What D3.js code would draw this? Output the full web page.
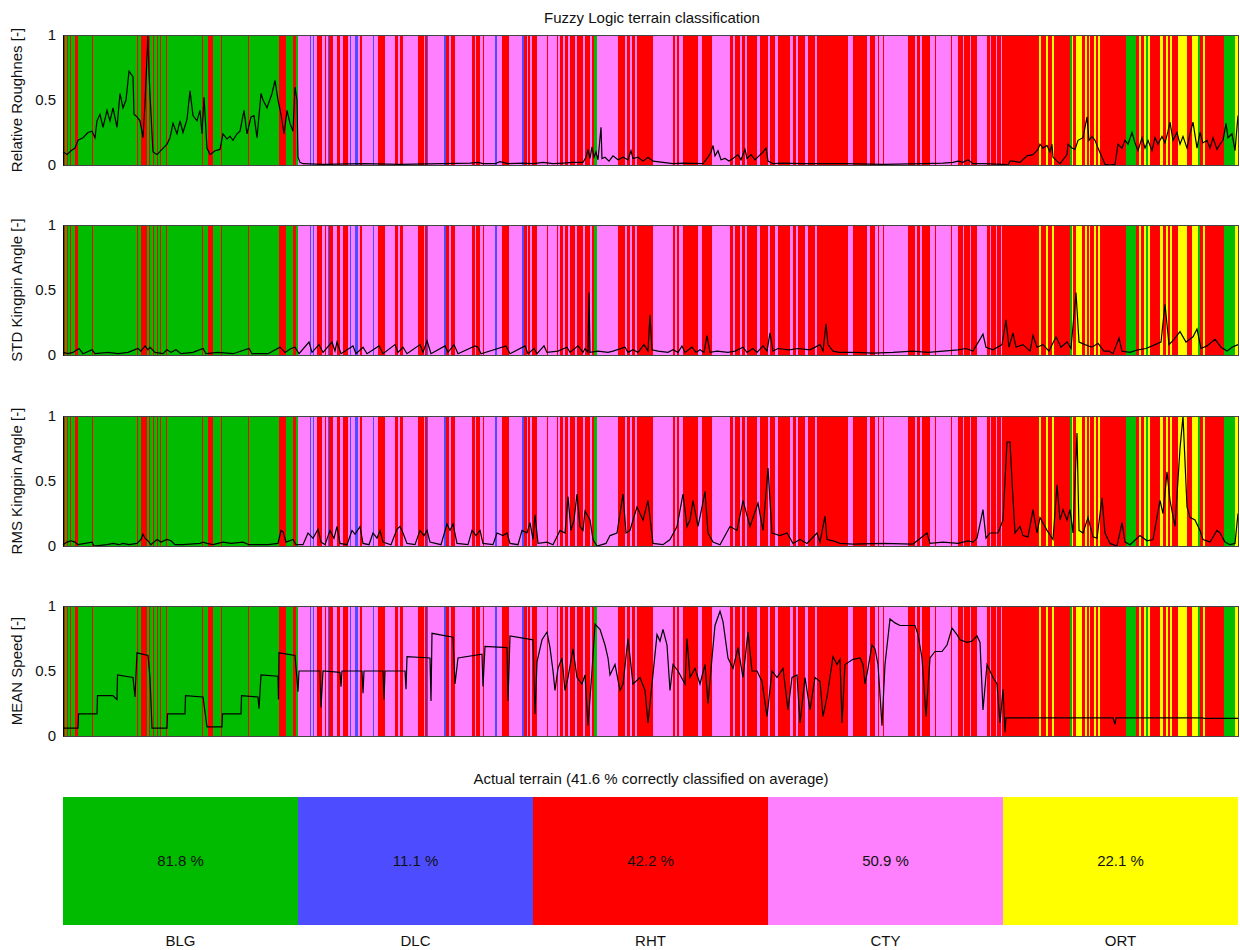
<!DOCTYPE html>
<html>
<head>
<meta charset="utf-8">
<script src="https://cdn.jsdelivr.net/npm/d3@7"></script>
<style>
  body { margin: 0; background: #fff; }
  svg text { font-family: "Liberation Sans", Arial, sans-serif; fill: #111; }
</style>
</head>
<body>
<svg id="chart" width="1240" height="950"></svg>
<script>
// terrain classes (codes used in the classification strip)
const classNames = ["BLG", "DLC", "RHT", "CTY", "ORT"];
const classColors = { G: "#00bb00", B: "#4d4dff", R: "#ff0000", P: "#ff80ff", Y: "#ffff00" };
const classCodeOrder = ["G", "B", "R", "P", "Y"];
const classPercent = [81.8, 11.1, 42.2, 50.9, 22.1];
const averageCorrect = 41.6;

// classified terrain along the run: start sample of each segment and its class
const segStart = [0,1,2,4,5,7,8,12,15,29,30,74,75,78,84,86,87,90,91,94,95,97,98,103,104,139,140,145,150,158,159,185,186,216,223,230,233,
  235,247,248,250,251,254,259,262,263,265,266,270,274,277,280,285,287,288,292,295,297,299,310,311,315,322,332,335,337,340,355,361,362,364,365,
  381,383,386,388,392,409,412,413,417,420,421,432,434,439,446,459,461,464,465,467,469,474,484,485,494,495,497,500,502,505,507,512,514,520,522,527,529,
  531,534,555,562,564,567,569,572,574,590,610,612,614,616,620,635,639,649,667,670,672,677,679,682,684,694,697,705,707,712,715,727,730,733,735,742,745,752,754,
  785,790,804,807,812,815,816,820,821,845,852,854,857,859,867,872,873,888,889,895,900,901,907,908,914,924,927,928,933,934,938,939,
  976,978,983,985,989,991,1007,1009,1010,1013,1019,1022,1024,1026,1027,1031,1033,1035,1037,1063,1073,1076,1078,1081,1083,1085,1087,1097,1100,1103,1105,1107,1109,
  1115,1124,1129,1135,1137,1140,1142,1161,1172];
const segCode = ["G","R","G","R","G","R","G","R","G","R","G","R","G","R","G","R","G","R","G","R","G","R","G","R","G","R","G","R","G","R","G","R","G","R","G","R","G",
  "P","B","P","B","P","R","P","R","P","B","R","P","R","P","R","P","B","P","B","P","R","P","B","P","R","P","R","P","R","P","R","P","R","B","P",
  "B","R","P","R","P","R","P","R","P","R","P","B","P","R","P","B","R","P","R","P","R","P","R","P","R","P","R","P","R","P","R","P","R","P","R","P","R",
  "G","P","R","P","R","P","R","P","R","P","R","P","R","P","R","P","R","P","R","P","R","P","R","P","R","P","R","P","R","P","R","P","R","P","R","P","R","P","R",
  "P","R","P","R","P","R","P","R","P","R","P","R","P","R","P","R","P","R","P","R","P","R","P","R","P","R","P","R","P","R","P","R",
  "Y","R","Y","R","Y","R","G","Y","R","Y","R","Y","R","Y","R","Y","R","Y","R","G","R","Y","R","Y","G","Y","R","Y","R","Y","R","Y","R",
  "Y","R","Y","G","R","Y","R","G","Y"];
const sampleCount = 1175;

// measured signals, normalised [sample, value]
const roughness = [[0,0.09],[1,0.096],[4,0.08],[8,0.11],[12,0.13],[15,0.19],[20,0.21],[25,0.25],[29,0.26],[32,0.21],[34,0.34],[37,0.39],[40,0.29],[44,0.42],[47,0.34],[50,0.44],[54,0.29],[57,0.55],[60,0.44],[63,0.5],[66,0.72],[70,0.68],[71,0.39],[74,0.37],[77,0.34],[80,0.21],[82,0.48],[85,1.0],[86,0.7],[89,0.24],[90,0.1],[94,0.08],[99,0.12],[104,0.16],[107,0.21],[110,0.32],[114,0.24],[117,0.34],[120,0.25],[124,0.35],[127,0.57],[130,0.38],[134,0.34],[137,0.42],[139,0.24],[141,0.52],[144,0.13],[147,0.08],[152,0.11],[157,0.12],[160,0.24],[164,0.2],[167,0.22],[170,0.19],[174,0.24],[177,0.26],[181,0.42],[184,0.24],[188,0.37],[191,0.38],[194,0.21],[198,0.55],[200,0.5],[204,0.44],[209,0.55],[212,0.65],[215,0.5],[218,0.39],[221,0.24],[224,0.42],[227,0.32],[230,0.26],[232,0.6],[234,0.5],[235,0.06],[237,0.02],[240,0.01],
  [260,0.005],[300,0.01],[337,0.005],[380,0.01],[407,0.015],[415,0.02],[420,0.01],[432,0.01],[437,0.025],[445,0.01],[460,0.015],[470,0.01],[480,0.02],[490,0.01],[500,0.015],[510,0.02],[520,0.02],[523,0.06],[525,0.12],[527,0.05],[529,0.14],[531,0.06],[533,0.1],[535,0.04],[538,0.29],[539,0.05],[542,0.06],[546,0.03],[550,0.07],[555,0.04],[560,0.06],[565,0.04],[568,0.11],[570,0.05],[575,0.06],[580,0.03],[585,0.06],[590,0.03],[600,0.02],[610,0.01],[620,0.015],[640,0.01],[645,0.06],[648,0.1],[650,0.15],[652,0.07],[655,0.11],[658,0.04],[662,0.05],[666,0.03],[670,0.05],[675,0.08],[678,0.04],[682,0.12],[684,0.05],[688,0.08],[692,0.04],[696,0.07],[700,0.1],[703,0.13],[705,0.03],[710,0.01],[720,0.015],[740,0.01],[780,0.01],[820,0.005],[860,0.01],[880,0.015],[890,0.02],[895,0.03],[900,0.02],[905,0.04],[910,0.01],[920,0.01],[940,0.005],[945,0.0],
  [947,0.03],[950,0.03],[957,0.02],[964,0.07],[970,0.08],[975,0.12],[977,0.16],[980,0.13],[984,0.15],[987,0.1],[989,0.16],[990,0.06],[994,0.03],[997,0.01],[1000,0.04],[1004,0.08],[1005,0.16],[1009,0.13],[1012,0.12],[1015,0.19],[1020,0.21],[1024,0.37],[1026,0.19],[1029,0.22],[1032,0.19],[1035,0.13],[1039,0.06],[1042,0.005],[1047,0],[1052,0.005],[1055,0.16],[1059,0.13],[1062,0.19],[1065,0.16],[1069,0.25],[1072,0.17],[1075,0.11],[1079,0.21],[1082,0.13],[1085,0.19],[1089,0.11],[1092,0.21],[1095,0.16],[1099,0.22],[1102,0.17],[1105,0.26],[1107,0.33],[1110,0.19],[1114,0.25],[1117,0.16],[1120,0.22],[1124,0.13],[1127,0.24],[1130,0.33],[1134,0.13],[1137,0.25],[1140,0.17],[1144,0.19],[1147,0.13],[1150,0.21],[1154,0.12],[1157,0.16],[1160,0.19],[1163,0.32],[1165,0.21],[1169,0.24],[1172,0.11],[1175,0.38]];

const stdKingpin = [[0,0.02],[5,0.01],[10,0.02],[16,0.05],[20,0.01],[29,0.04],[32,0.01],[45,0.02],[55,0.01],[65,0.02],[75,0.05],[78,0.03],[82,0.07],[85,0.04],[87,0.06],[92,0.02],[100,0.01],[104,0.04],[108,0.02],[113,0.04],[118,0.01],[130,0.02],[140,0.05],[143,0.01],[155,0.02],[170,0.01],[186,0.05],[189,0.01],[205,0.01],[217,0.06],[222,0.02],[228,0.05],[232,0.06],[236,0.01],[246,0.1],[249,0.02],[256,0.08],[260,0.02],[269,0.1],[272,0.03],[274,0.1],[278,0.01],[290,0.07],[293,0.01],[300,0.06],[304,0.01],[316,0.07],[320,0.01],[332,0.08],[335,0.02],[340,0.06],[344,0.01],[357,0.08],[360,0.02],[364,0.11],[368,0.01],[382,0.07],[385,0.02],[391,0.08],[395,0.01],[412,0.07],[415,0.06],[418,0.01],[443,0.07],[447,0.01],[462,0.07],[465,0.01],[471,0.05],[474,0.01],[481,0.07],[484,0.02],[495,0.03],[504,0.06],[507,0.02],[515,0.07],[520,0.02],[522,0.05],[525,0.02],[526,0.48],[527,0.02],[535,0.03],[545,0.02],[550,0.03],[562,0.06],[565,0.02],[570,0.04],[575,0.02],[581,0.08],[585,0.03],[587,0.31],[589,0.04],[595,0.03],[605,0.02],[610,0.04],[615,0.02],[619,0.07],[622,0.02],[629,0.06],[633,0.02],[637,0.04],[641,0.02],[644,0.15],[647,0.02],[654,0.03],[665,0.02],[672,0.03],[680,0.06],[684,0.02],[690,0.05],[694,0.02],[700,0.07],[704,0.03],[707,0.17],[710,0.03],[715,0.05],[726,0.04],[735,0.05],[747,0.04],[757,0.08],[760,0.03],[763,0.24],[765,0.08],[770,0.03],[776,0.02],[792,0.02],[810,0.015],[830,0.02],[850,0.03],[865,0.02],[880,0.03],[895,0.04],[903,0.05],[910,0.03],[920,0.16],[923,0.06],[930,0.04],[939,0.08],[943,0.27],[946,0.06],[950,0.17],[953,0.06],[960,0.08],[967,0.03],[970,0.15],[974,0.06],[980,0.08],[986,0.03],[993,0.14],[998,0.06],[1004,0.1],[1008,0.05],[1013,0.48],[1016,0.1],[1022,0.08],[1029,0.06],[1035,0.09],[1041,0.03],[1046,0.03],[1050,0.01],[1056,0.13],[1059,0.03],[1067,0.02],[1075,0.04],[1083,0.05],[1092,0.08],[1098,0.1],[1102,0.39],[1106,0.08],[1111,0.12],[1117,0.18],[1123,0.1],[1130,0.14],[1134,0.2],[1138,0.05],[1144,0.07],[1152,0.12],[1158,0.06],[1164,0.03],[1169,0.06],[1175,0.08]];

const rmsKingpin = [[0,0.01],[4,0.03],[8,0.04],[12,0.03],[15,0.01],[29,0.03],[31,0.0],[44,0.01],[50,0.02],[56,0.01],[60,0.02],[66,0.01],[74,0.02],[78,0.05],[80,0.09],[82,0.06],[85,0.04],[88,0.01],[94,0.05],[98,0.03],[104,0.05],[108,0.04],[112,0.01],[120,0.01],[137,0.02],[140,0.03],[144,0.02],[150,0.01],[160,0.03],[168,0.02],[180,0.03],[186,0.01],[205,0.01],[215,0.02],[218,0.12],[220,0.11],[223,0.03],[230,0.05],[233,0.01],[240,0.01],[245,0.1],[250,0.06],[255,0.13],[258,0.03],[262,0.01],[267,0.12],[271,0.06],[274,0.15],[277,0.02],[284,0.01],[289,0.12],[292,0.09],[297,0.15],[300,0.02],[306,0.01],[310,0.1],[314,0.06],[317,0.12],[320,0.03],[328,0.01],[334,0.13],[337,0.15],[340,0.1],[344,0.02],[352,0.01],[357,0.12],[361,0.08],[364,0.12],[367,0.03],[378,0.01],[384,0.17],[387,0.12],[390,0.17],[394,0.02],[405,0.01],[409,0.12],[413,0.08],[417,0.12],[420,0.02],[430,0.01],[434,0.1],[440,0.08],[444,0.1],[447,0.02],[455,0.01],[459,0.12],[464,0.1],[467,0.18],[470,0.05],[472,0.24],[475,0.02],[484,0.03],[490,0.01],[497,0.12],[502,0.1],[505,0.38],[508,0.12],[511,0.2],[514,0.4],[517,0.15],[520,0.12],[522,0.27],[527,0.2],[530,0.05],[534,0.0],[543,0.02],[547,0.08],[554,0.1],[560,0.4],[563,0.1],[567,0.12],[570,0.2],[574,0.3],[580,0.2],[585,0.35],[590,0.02],[600,0.01],[607,0.05],[614,0.15],[620,0.4],[624,0.15],[627,0.2],[630,0.35],[635,0.15],[639,0.3],[642,0.42],[645,0.1],[650,0.03],[657,0.01],[667,0.15],[674,0.12],[680,0.35],[687,0.15],[695,0.33],[700,0.12],[705,0.6],[709,0.1],[717,0.08],[724,0.1],[730,0.02],[737,0.05],[744,0.02],[754,0.1],[757,0.03],[762,0.23],[764,0.05],[770,0.04],[777,0.02],[790,0.015],[820,0.02],[850,0.015],[864,0.1],[867,0.02],[880,0.03],[895,0.02],[905,0.04],[910,0.03],[914,0.06],[920,0.28],[923,0.06],[927,0.1],[935,0.1],[940,0.2],[944,0.8],[947,0.8],[949,0.5],[952,0.1],[957,0.15],[960,0.08],[965,0.07],[970,0.28],[974,0.1],[977,0.22],[984,0.12],[990,0.05],[994,0.47],[997,0.2],[1000,0.28],[1004,0.2],[1007,0.28],[1010,0.1],[1014,0.87],[1016,0.12],[1020,0.1],[1025,0.22],[1030,0.07],[1034,0.06],[1039,0.37],[1042,0.1],[1047,0.02],[1054,0.0],[1059,0.18],[1062,0.03],[1067,0.01],[1077,0.08],[1084,0.04],[1090,0.05],[1097,0.35],[1100,0.25],[1104,0.57],[1107,0.35],[1112,0.15],[1117,0.75],[1120,1.0],[1124,0.3],[1127,0.22],[1132,0.2],[1137,0.12],[1140,0.05],[1147,0.03],[1154,0.12],[1157,0.1],[1162,0.03],[1167,0.01],[1172,0.02],[1175,0.25]];

const meanSpeed = [[0,0.06],[15,0.06],[15.5,0.17],[34,0.17],[34.5,0.31],[50,0.31],[54,0.28],[54.5,0.47],[70,0.45],[72,0.3],[74,0.64],[85,0.62],[87,0.45],[89,0.06],[104,0.06],[104.5,0.17],[122,0.17],[122.5,0.31],[140,0.3],[144,0.07],[159,0.07],[159.5,0.17],[178,0.17],[178.5,0.31],[195,0.3],[196,0.21],[198,0.47],[215,0.46],[215.5,0.28],[216,0.64],[232,0.62],[235,0.34],[236,0.5],[257,0.5],[258,0.22],[260,0.5],[277,0.49],[278,0.38],[279,0.5],[299,0.5],[300,0.33],[301,0.5],[320,0.5],[321,0.28],[322,0.5],[342,0.5],[343,0.36],[344,0.61],[367,0.6],[368,0.27],[369,0.79],[390,0.76],[392,0.4],[395,0.6],[419,0.63],[420,0.38],[422,0.69],[444,0.68],[445,0.27],[447,0.77],[470,0.74],[472,0.17],[474,0.57],[479,0.74],[484,0.8],[487,0.68],[490,0.5],[492,0.35],[495,0.52],[499,0.6],[502,0.35],[505,0.45],[510,0.67],[514,0.45],[519,0.4],[522,0.47],[525,0.08],[529,0.5],[532,0.86],[537,0.82],[542,0.7],[545,0.6],[547,0.47],[552,0.55],[557,0.35],[560,0.4],[565,0.75],[570,0.4],[577,0.45],[582,0.35],[585,0.1],[589,0.4],[594,0.78],[597,0.73],[600,0.82],[604,0.7],[607,0.35],[610,0.55],[615,0.5],[622,0.4],[624,0.75],[627,0.45],[632,0.52],[637,0.4],[642,0.55],[645,0.25],[649,0.6],[652,0.85],[657,0.96],[660,0.88],[665,0.6],[670,0.52],[675,0.68],[680,0.45],[685,0.8],[689,0.5],[694,0.5],[699,0.42],[704,0.15],[709,0.5],[714,0.45],[720,0.52],[725,0.2],[729,0.45],[734,0.47],[737,0.1],[742,0.45],[747,0.2],[752,0.45],[757,0.42],[760,0.15],[764,0.3],[770,0.61],[774,0.55],[777,0.59],[779,0.1],[782,0.55],[790,0.59],[797,0.6],[800,0.55],[802,0.4],[805,0.52],[809,0.7],[812,0.67],[815,0.55],[819,0.08],[822,0.55],[827,0.9],[832,0.87],[837,0.85],[844,0.85],[852,0.85],[855,0.78],[859,0.6],[863,0.15],[867,0.6],[872,0.65],[879,0.65],[884,0.7],[889,0.83],[894,0.78],[897,0.74],[904,0.72],[909,0.73],[914,0.77],[917,0.72],[920,0.2],[924,0.55],[927,0.5],[930,0.45],[934,0.4],[937,0.1],[940,0.36],[942,0.03],[943,0.14],[1050,0.14],[1052,0.09],[1053,0.14],[1140,0.14],[1141,0.135],[1175,0.135]];

const panelLabels = ["Relative Roughnes [-]", "STD Kingpin Angle [-]", "RMS Kingpin Angle  [-]", "MEAN Speed [-]"];
const panelSeries = [roughness, stdKingpin, rmsKingpin, meanSpeed];
const yTicks = [0, 0.5, 1];

const svg = d3.select("#chart");
const left = 63, right = 1238;
const panelTops = [35, 225, 416, 606];
const panelH = 130;
const fontSize = 15;

const x = d3.scaleLinear().domain([0, sampleCount]).range([left, right]);

// build segment list from the two arrays
const segments = segStart.map((s, i) => ({
  x0: s,
  x1: i + 1 < segStart.length ? segStart[i + 1] : sampleCount,
  code: segCode[i]
}));

svg.append("text")
  .attr("x", 652).attr("y", 23)
  .attr("text-anchor", "middle")
  .attr("font-size", fontSize)
  .text("Fuzzy Logic terrain classification");

panelSeries.forEach((series, i) => {
  const top = panelTops[i];
  const y = d3.scaleLinear().domain([0, 1]).range([top + panelH, top]);
  const g = svg.append("g");

  // classification bands
  g.append("g").selectAll("rect")
    .data(segments)
    .join("rect")
    .attr("x", d => x(d.x0))
    .attr("width", d => x(d.x1) - x(d.x0))
    .attr("y", top)
    .attr("height", panelH)
    .attr("fill", d => classColors[d.code])
    .attr("shape-rendering", "crispEdges");

  // signal line
  g.append("path")
    .datum(series)
    .attr("fill", "none")
    .attr("stroke", "#000")
    .attr("stroke-width", 1.2)
    .attr("d", d3.line().x(d => x(d[0])).y(d => y(d[1])));

  // frame
  g.append("rect")
    .attr("x", left).attr("y", top)
    .attr("width", right - left).attr("height", panelH)
    .attr("fill", "none")
    .attr("stroke", "#444")
    .attr("shape-rendering", "crispEdges");

  const axis = g.append("g")
    .attr("transform", `translate(${left},0)`)
    .call(d3.axisLeft(y).tickValues(yTicks).tickSize(0).tickPadding(7)
      .tickFormat(d => d === 0.5 ? "0.5" : d3.format("d")(d)));
  axis.select(".domain").attr("stroke", "#000");
  axis.selectAll("text").attr("font-size", fontSize).attr("fill", "#222")
    .attr("font-family", "'Liberation Sans', Arial, sans-serif");

  svg.append("text")
    .attr("transform", `translate(22,${top + panelH / 2}) rotate(-90)`)
    .attr("text-anchor", "middle")
    .attr("font-size", fontSize)
    .text(panelLabels[i]);
});

// actual terrain summary
const barTop = 797, barH = 128;
const xb = d3.scaleBand().domain(classNames).range([left, right]);

svg.append("text")
  .attr("x", 651).attr("y", 784)
  .attr("text-anchor", "middle")
  .attr("font-size", fontSize)
  .text(`Actual terrain (${averageCorrect} % correctly classified on average)`);

const blocks = classNames.map((n, i) => ({ name: n, pct: classPercent[i], code: classCodeOrder[i] }));

svg.append("g").selectAll("rect")
  .data(blocks)
  .join("rect")
  .attr("x", d => xb(d.name))
  .attr("width", xb.bandwidth())
  .attr("y", barTop)
  .attr("height", barH)
  .attr("fill", d => classColors[d.code])
  .attr("shape-rendering", "crispEdges");

svg.append("g").selectAll("text")
  .data(blocks)
  .join("text")
  .attr("x", d => xb(d.name) + xb.bandwidth() / 2)
  .attr("y", barTop + barH / 2 + 5)
  .attr("text-anchor", "middle")
  .attr("font-size", fontSize)
  .text(d => `${d.pct} %`);

svg.append("g").selectAll("text")
  .data(blocks)
  .join("text")
  .attr("x", d => xb(d.name) + xb.bandwidth() / 2)
  .attr("y", barTop + barH + 21)
  .attr("text-anchor", "middle")
  .attr("font-size", fontSize)
  .text(d => d.name);
</script>
